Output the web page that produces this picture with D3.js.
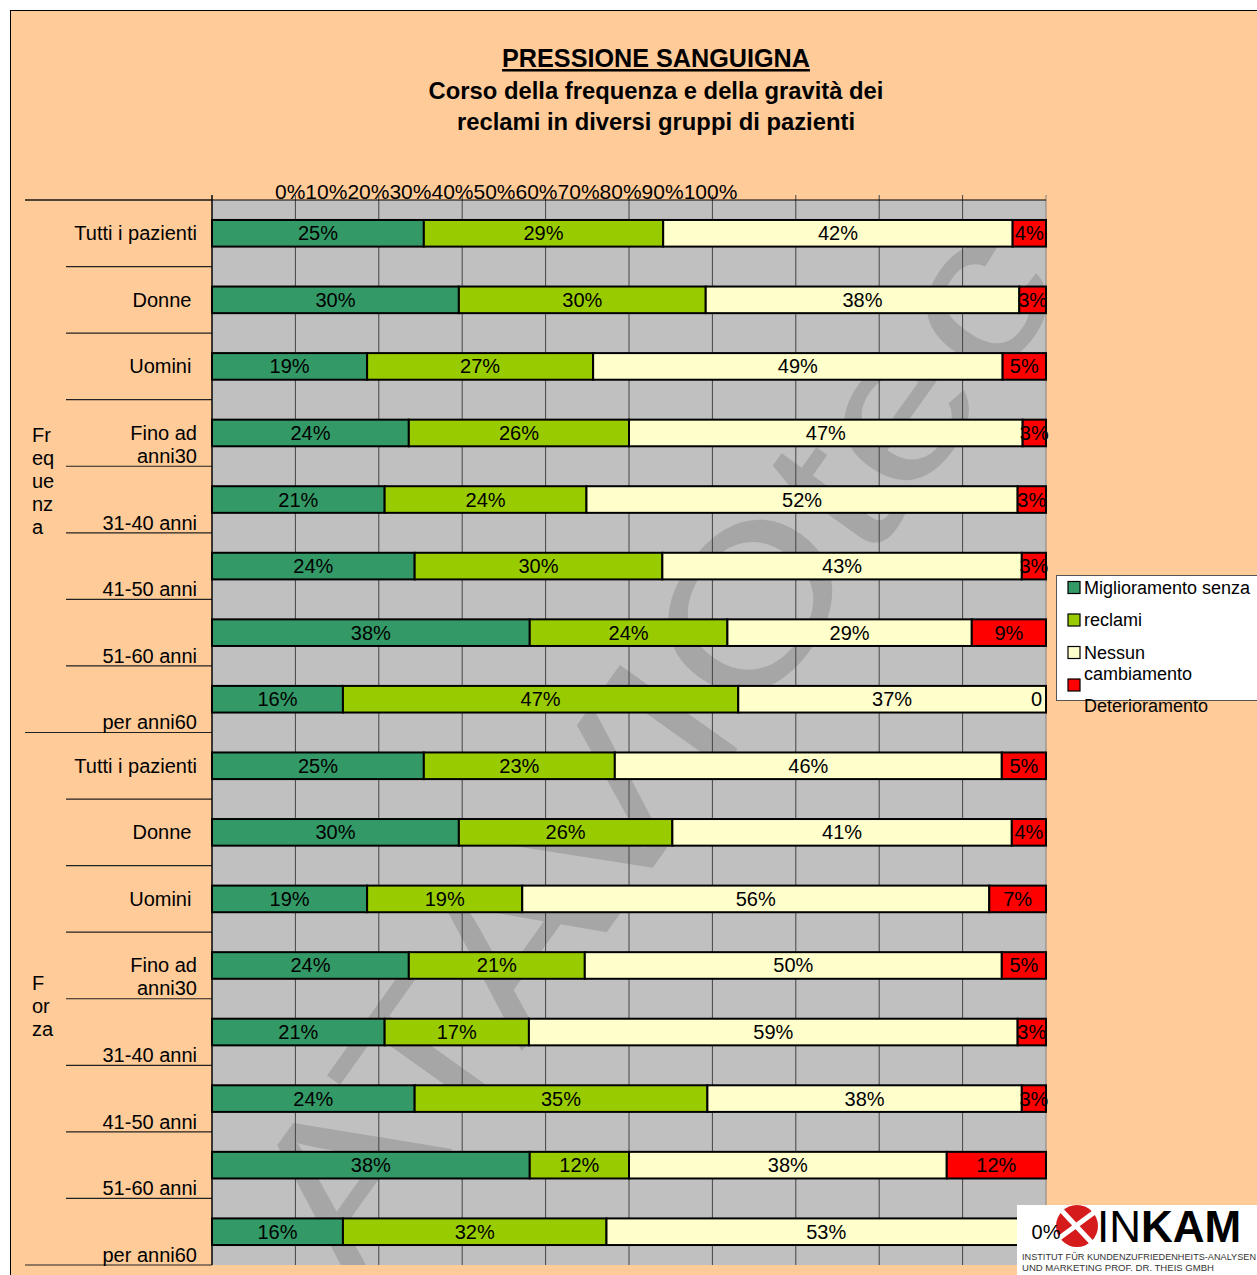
<!DOCTYPE html>
<html>
<head>
<meta charset="utf-8">
<script src="https://cdn.jsdelivr.net/npm/d3@7"></script>
<style>
  body { margin: 0; background: #fff; }
  svg { display: block; font-family: "Liberation Sans", Arial, sans-serif; }
</style>
</head>
<body>
<div id="chart"></div>
<script>
// categories (\n = line break as in the original labels)
const categories = [
  "Tutti i pazienti", "Donne ", "Uomini ", "Fino ad\nanni30", "\n31-40 anni", "\n41-50 anni", "\n51-60 anni", "\nper anni60",
  "Tutti i pazienti", "Donne ", "Uomini ", "Fino ad\nanni30", "\n31-40 anni", "\n41-50 anni", "\n51-60 anni", "\nper anni60"
];
const groupLabels = [["Fr", "eq", "ue", "nz", "a"], ["F", "or", "za"]];
const groupSize = 8;

// series (percent)
const miglioramento  = [25.4, 29.6, 18.6, 23.6, 20.7, 24.3, 38.1, 15.7, 25.4, 29.6, 18.6, 23.6, 20.7, 24.3, 38.1, 15.7];
const reclami        = [28.7, 29.6, 27.1, 26.4, 24.2, 29.7, 23.7, 47.4, 22.9, 25.6, 18.6, 21.1, 17.3, 35.1, 11.9, 31.6];
const nessun         = [41.9, 37.6, 49.1, 47.2, 51.7, 43.1, 29.3, 36.9, 46.4, 40.7, 56.0, 50.0, 58.6, 37.7, 38.1, 52.7];
const deterioramento = [4.0, 3.2, 5.2, 2.8, 3.4, 2.9, 8.9, 0, 5.3, 4.1, 6.8, 5.3, 3.4, 2.9, 11.9, 0];

const legendLabels = ["Miglioramento senza", "reclami", "Nessun\ncambiamento", "\nDeterioramento"];
const tickLabels = ["0%", "10%", "20%", "30%", "40%", "50%", "60%", "70%", "80%", "90%", "100%"];
const titleText = "PRESSIONE SANGUIGNA";
const subtitleLines = ["Corso della frequenza e della gravità dei", "reclami in diversi gruppi di pazienti"];

const keys = ["m", "r", "n", "d"];
const colors = { m: "#339966", r: "#99CC00", n: "#FFFFCC", d: "#FF0000" };

const table = categories.map((c, i) => ({
  i: i, m: miglioramento[i], r: reclami[i], n: nessun[i], d: deterioramento[i]
}));

const W = 1257, H = 1275;
const plot = { left: 212, right: 1046, top: 200, bottom: 1265 };

const svg = d3.select("#chart").append("svg")
  .attr("width", W).attr("height", H);

// page background + outer border
svg.append("rect").attr("x", 10.5).attr("y", 10.5).attr("width", W + 20).attr("height", H + 20)
  .attr("fill", "#FFCC99").attr("stroke", "#000").attr("stroke-width", 1);

// titles
svg.append("text").attr("x", 656).attr("y", 67).attr("text-anchor", "middle")
  .attr("font-size", 25.2).attr("font-weight", "bold").attr("text-decoration", "underline")
  .text(titleText);
svg.selectAll(".sub").data(subtitleLines).join("text")
  .attr("x", 656).attr("y", (d, i) => 99 + i * 31).attr("text-anchor", "middle")
  .attr("font-size", 23.8).attr("font-weight", "bold")
  .text(d => d);

const x = d3.scaleLinear().domain([0, 100]).range([plot.left, plot.right]);
const y = d3.scaleBand().domain(d3.range(categories.length))
  .range([plot.top, plot.bottom]).paddingInner(0.6).paddingOuter(0.3);
const step = y.step();
const rowCenter = i => y(i) + y.bandwidth() / 2;

// plot background
svg.append("rect").attr("x", plot.left).attr("y", plot.top)
  .attr("width", plot.right - plot.left).attr("height", plot.bottom - plot.top)
  .attr("fill", "#C0C0C0");

// watermark
svg.append("clipPath").attr("id", "pclip").append("rect")
  .attr("x", plot.left).attr("y", plot.top)
  .attr("width", plot.right - plot.left).attr("height", plot.bottom - plot.top);
svg.append("g").attr("clip-path", "url(#pclip)")
  .append("text")
  .attr("transform", "translate(650,745) rotate(-54.5)")
  .attr("text-anchor", "middle").attr("dy", "0.35em")
  .attr("font-size", 210).attr("fill", "#808080").attr("opacity", 0.4)
  .attr("textLength", 1230).attr("lengthAdjust", "spacingAndGlyphs")
  .text("ATAVIOtec");

// vertical gridlines
svg.append("g").selectAll("line").data(d3.range(0, 101, 10)).join("line")
  .attr("x1", d => x(d)).attr("x2", d => x(d))
  .attr("y1", plot.top - 5).attr("y2", plot.bottom)
  .attr("stroke", d => d === 100 ? "#808080" : "#444").attr("stroke-width", 1);

// top axis line
svg.append("line").attr("x1", 25).attr("x2", plot.right).attr("y1", plot.top).attr("y2", plot.top)
  .attr("stroke", "#000");

// crammed tick labels
svg.append("text").attr("x", 275).attr("y", 199).attr("font-size", 21)
  .selectAll("tspan").data(tickLabels).join("tspan").text(d => d);

// left separators
const boundaries = d3.range(categories.length + 1);
svg.append("g").selectAll("line").data(boundaries).join("line")
  .attr("x1", d => d % groupSize === 0 ? 25 : 66).attr("x2", plot.left)
  .attr("y1", d => plot.top + d * step).attr("y2", d => plot.top + d * step)
  .attr("stroke", "#222").attr("stroke-width", 1.2);

// left axis line
svg.append("line").attr("x1", plot.left).attr("x2", plot.left)
  .attr("y1", plot.top - 5).attr("y2", plot.bottom).attr("stroke", "#000").attr("stroke-width", 1.2);

// category labels
svg.append("g").selectAll("text").data(categories).join("text")
  .attr("text-anchor", "end").attr("font-size", 20).style("white-space", "pre")
  .each(function (d, i) {
    d3.select(this).selectAll("tspan").data(d.split("\n")).join("tspan")
      .attr("x", 197).attr("y", (l, k) => rowCenter(i) + k * 23).attr("dy", "0.35em")
      .text(l => l);
  });

// group labels
const groupOffset = [15, 7];
svg.append("g").selectAll("text").data(groupLabels).join("text")
  .attr("font-size", 20)
  .each(function (lines, g) {
    const c = plot.top + (g + 0.5) * groupSize * step + groupOffset[g];
    d3.select(this).selectAll("tspan").data(lines).join("tspan")
      .attr("x", 32).attr("y", (l, k) => c + (k - (lines.length - 1) / 2) * 23).attr("dy", "0.35em")
      .text(l => l);
  });

// stacked bars
const series = d3.stack().keys(keys)(table);
svg.append("g").selectAll("g").data(series).join("g")
  .attr("fill", s => colors[s.key])
  .selectAll("rect").data(s => s).join("rect")
  .attr("x", d => x(d[0])).attr("y", d => y(d.data.i))
  .attr("width", d => x(d[1]) - x(d[0])).attr("height", y.bandwidth())
  .attr("stroke", "#000").attr("stroke-width", 2);

// legend
const lg = svg.append("g").attr("transform", "translate(1056,575)");
lg.append("rect").attr("x", 0.5).attr("y", 0.5).attr("width", 220).attr("height", 125)
  .attr("fill", "#fff").attr("stroke", "#555");
keys.forEach((k, i) => {
  const cy = 12.5 + i * 32.5;
  lg.append("rect").attr("x", 12).attr("y", cy - 6).attr("width", 12).attr("height", 12)
    .attr("fill", colors[k]).attr("stroke", "#000").attr("stroke-width", 1.2);
  lg.append("text").attr("font-size", 18)
    .selectAll("tspan").data(legendLabels[i].split("\n")).join("tspan")
    .attr("x", 28).attr("y", (l, j) => cy + j * 21).attr("dy", "0.35em").text(l => l);
});

// logo
const logo = svg.append("g");
logo.append("rect").attr("x", 1017).attr("y", 1205).attr("width", 260).attr("height", 80).attr("fill", "#fff");
logo.append("circle").attr("cx", 1077).attr("cy", 1226).attr("r", 21).attr("fill", "#D51B1B");
logo.append("path").attr("d", "M1058,1239 L1096,1211 M1062,1211 L1092,1243")
  .attr("stroke", "#fff").attr("stroke-width", 5);
logo.append("text").attr("x", 1097).attr("y", 1242).attr("font-size", 44)
  .call(t => t.append("tspan").attr("font-weight", "normal").text("IN"))
  .call(t => t.append("tspan").attr("font-weight", "bold").text("KAM"));
logo.append("text").attr("x", 1022).attr("y", 1260).attr("font-size", 9).attr("fill", "#333")
  .attr("textLength", 234).attr("lengthAdjust", "spacingAndGlyphs")
  .text("INSTITUT FÜR KUNDENZUFRIEDENHEITS-ANALYSEN");
logo.append("text").attr("x", 1022).attr("y", 1271).attr("font-size", 9).attr("fill", "#333")
  .attr("textLength", 192).attr("lengthAdjust", "spacingAndGlyphs")
  .text("UND MARKETING PROF. DR. THEIS GMBH");

// value labels
const labelOverride = { "d-7": "0" };
svg.append("g").attr("font-size", 20)
  .selectAll("g").data(series).join("g")
  .selectAll("text").data(s => s.map(d => ({ key: s.key, d: d }))).join("text")
  .each(function (o) {
    const id = o.key + "-" + o.d.data.i;
    const v = o.d.data[o.key];
    const t = d3.select(this)
      .attr("y", rowCenter(o.d.data.i)).attr("dy", "0.35em");
    if (labelOverride[id] !== undefined) {
      t.attr("x", x(o.d[1]) - 4).attr("text-anchor", "end").text(labelOverride[id]);
    } else {
      t.attr("x", (x(o.d[0]) + x(o.d[1])) / 2).attr("text-anchor", "middle").text(Math.round(v) + "%");
    }
  });
</script>
</body>
</html>
